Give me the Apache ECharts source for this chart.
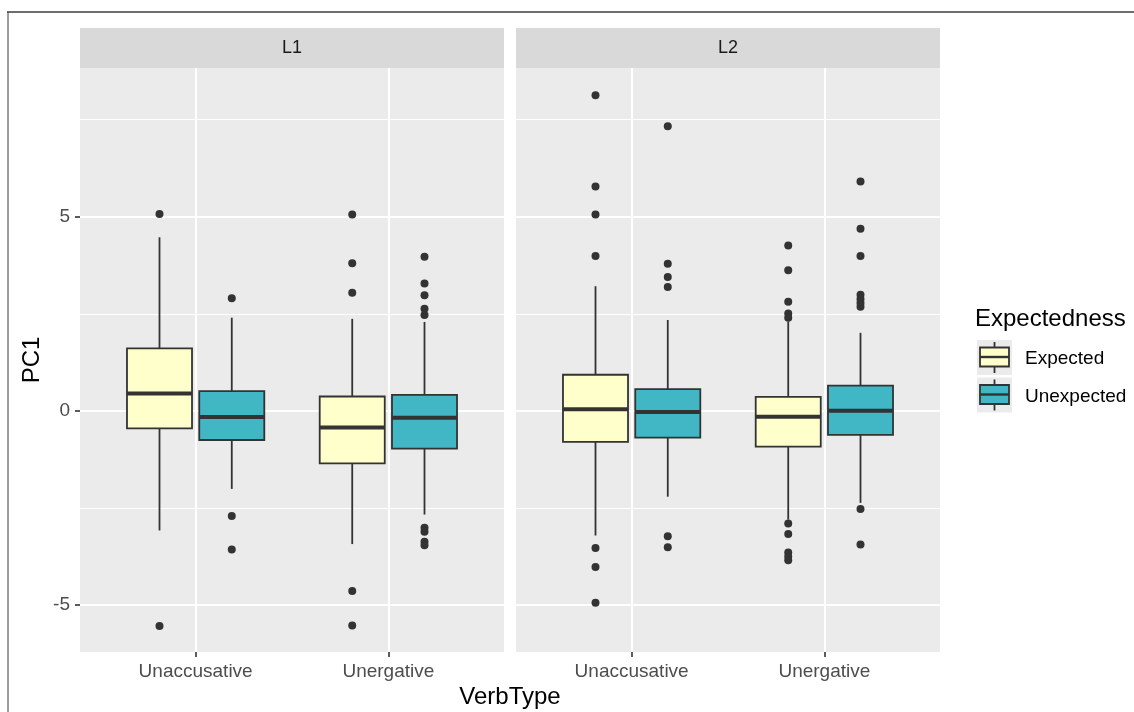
<!DOCTYPE html>
<html>
<head>
<meta charset="utf-8">
<script src="https://cdn.jsdelivr.net/npm/echarts@6/dist/echarts.min.js"></script>
<style>
  html, body { margin: 0; padding: 0; background: #ffffff; }
  #chart { width: 1134px; height: 712px; }
</style>
</head>
<body>
<div id="chart"></div>
<script>
// Facets, categories and groups
const panels = ['L1', 'L2'];
const verbTypes = ['Unaccusative', 'Unergative'];
const groups = ['Expected', 'Unexpected'];
const yTicks = [-5, 0, 5];
const yMinorTicks = [-2.5, 2.5, 7.5];

// Box statistics per verb type: [lower whisker, Q1, median, Q3, upper whisker]
const l1Expected   = [[-3.08, -0.45,  0.45, 1.61, 4.47], [-3.43, -1.35, -0.43, 0.37, 2.37]];
const l1Unexpected = [[-2.01, -0.75, -0.16, 0.51, 2.40], [-2.67, -0.97, -0.18, 0.41, 2.29]];
const l2Expected   = [[-3.21, -0.80,  0.04, 0.93, 3.21], [-2.80, -0.92, -0.15, 0.36, 2.30]];
const l2Unexpected = [[-2.21, -0.69, -0.03, 0.56, 2.34], [-2.37, -0.62,  0.00, 0.65, 2.01]];

// Outlying points per verb type
const l1ExpectedOut   = [[5.07, -5.54], [5.06, 3.80, 3.04, -4.64, -5.53]];
const l1UnexpectedOut = [[2.90, -2.71, -3.57], [3.97, 3.28, 2.98, 2.63, 2.47, -3.01, -3.11, -3.37, -3.46]];
const l2ExpectedOut   = [[8.13, 5.78, 5.06, 3.99, -3.53, -4.02, -4.94], [4.26, 3.62, 2.81, 2.51, 2.40, -2.90, -3.17, -3.65, -3.75, -3.85]];
const l2UnexpectedOut = [[7.33, 3.79, 3.45, 3.19, -3.23, -3.51], [5.91, 4.69, 3.99, 2.99, 2.88, 2.78, 2.68, -2.53, -3.44]];

const fills = { Expected: '#FFFFCC', Unexpected: '#41B6C4' };
const boxStats = { L1: { Expected: l1Expected, Unexpected: l1Unexpected }, L2: { Expected: l2Expected, Unexpected: l2Unexpected } };
const outliers = { L1: { Expected: l1ExpectedOut, Unexpected: l1UnexpectedOut }, L2: { Expected: l2ExpectedOut, Unexpected: l2UnexpectedOut } };

// Layout of the two facet panels (pixels)
const panelLeft = [80, 516];
const panelWidth = 424;
const panelTop = 68;
const panelHeight = 584;
const stripTop = 28;
const dodge = { Expected: -0.1875, Unexpected: 0.1875 };
const halfBox = 0.16875;
const yMin = -6.21, yMax = 8.83;
const ink = '#333333';
const labelFont = 'Liberation Sans, Arial, sans-serif';

const chart = echarts.init(document.getElementById('chart'), null, { renderer: 'canvas' });

const grids = panels.map((p, i) => ({
  left: panelLeft[i], top: panelTop, width: panelWidth, height: panelHeight,
  show: true, backgroundColor: '#EBEBEB', borderWidth: 0, containLabel: false
}));

const xAxes = panels.map((p, i) => ({
  type: 'value', gridIndex: i, min: 0.4, max: 2.6, position: 'bottom',
  axisLine: { show: false, onZero: false },
  axisTick: { show: true, customValues: [1, 2], length: 5, lineStyle: { color: ink, width: 1.6 } },
  axisLabel: {
    customValues: [1, 2], margin: 10, color: '#4D4D4D', fontSize: 19, fontFamily: labelFont,
    formatter: v => verbTypes[Math.round(v) - 1] || ''
  },
  splitLine: { show: true, lineStyle: { color: '#FFFFFF', width: 2 } }
}));

const yAxes = [];
panels.forEach((p, i) => {
  // major lines and labels
  yAxes.push({
    type: 'value', gridIndex: i, min: yMin, max: yMax, position: 'left',
    axisLine: { show: false, onZero: false },
    axisTick: { show: i === 0, customValues: yTicks, length: 5, lineStyle: { color: ink, width: 1.6 } },
    axisLabel: { show: i === 0, customValues: yTicks, margin: 10, color: '#4D4D4D', fontSize: 19, fontFamily: labelFont },
    splitLine: { show: true, lineStyle: { color: '#FFFFFF', width: 2 } },
    name: i === 0 ? 'PC1' : '', nameLocation: 'middle', nameRotate: 90, nameGap: 36,
    nameTextStyle: { color: '#000000', fontSize: 24, fontFamily: labelFont }
  });
  // minor lines
  yAxes.push({
    type: 'value', gridIndex: i, min: yMin, max: yMax, position: 'left',
    axisLine: { show: false, onZero: false },
    axisTick: { show: false, customValues: yMinorTicks },
    axisLabel: { show: false, customValues: yMinorTicks },
    splitLine: { show: true, lineStyle: { color: '#FFFFFF', width: 1 } }
  });
});

function renderBox(params, api) {
  const x = api.value(0);
  const lo = api.coord([x, api.value(1)]);
  const q1 = api.coord([x, api.value(2)]);
  const med = api.coord([x, api.value(3)]);
  const q3 = api.coord([x, api.value(4)]);
  const hi = api.coord([x, api.value(5)]);
  const left = api.coord([x - halfBox, 0])[0];
  const right = api.coord([x + halfBox, 0])[0];
  const fill = api.visual('color');
  const lineStyle = { stroke: ink, lineWidth: 1.8 };
  return {
    type: 'group',
    children: [
      { type: 'line', shape: { x1: q3[0], y1: q3[1], x2: hi[0], y2: hi[1] }, style: lineStyle },
      { type: 'line', shape: { x1: q1[0], y1: q1[1], x2: lo[0], y2: lo[1] }, style: lineStyle },
      { type: 'rect', shape: { x: left, y: q3[1], width: right - left, height: q1[1] - q3[1] },
        style: { fill: fill, stroke: ink, lineWidth: 1.8 } },
      { type: 'line', shape: { x1: left, y1: med[1], x2: right, y2: med[1] }, style: { stroke: ink, lineWidth: 4 } }
    ]
  };
}

const series = [];
panels.forEach((p, i) => {
  groups.forEach(g => {
    const boxData = boxStats[p][g].map((s, k) => [k + 1 + dodge[g]].concat(s));
    series.push({
      type: 'custom', name: g, xAxisIndex: i, yAxisIndex: i * 2,
      renderItem: renderBox, itemStyle: { color: fills[g] },
      encode: { x: 0, y: [1, 2, 3, 4, 5] },
      data: boxData, z: 3, silent: true
    });
    const pts = [];
    outliers[p][g].forEach((list, k) => list.forEach(v => pts.push([k + 1 + dodge[g], v])));
    series.push({
      type: 'scatter', name: g + ' outliers', xAxisIndex: i, yAxisIndex: i * 2,
      symbol: 'circle', symbolSize: 8, itemStyle: { color: ink, opacity: 1 },
      data: pts, z: 4, silent: true
    });
  });
});

// Facet strips, axis title, legend and frame
const graphic = [];
panels.forEach((p, i) => {
  graphic.push({ type: 'rect', left: panelLeft[i], top: stripTop,
    shape: { width: panelWidth, height: panelTop - stripTop }, style: { fill: '#D9D9D9' } });
  graphic.push({ type: 'text', x: panelLeft[i] + panelWidth / 2, y: (stripTop + panelTop) / 2,
    style: { text: p, fill: '#1A1A1A', font: '18px ' + labelFont, textAlign: 'center', textVerticalAlign: 'middle' } });
});
graphic.push({ type: 'text', x: (panelLeft[0] + panelLeft[1] + panelWidth) / 2, y: 697,
  style: { text: 'VerbType', fill: '#000000', font: '24px ' + labelFont, textAlign: 'center', textVerticalAlign: 'middle' } });

graphic.push({ type: 'text', x: 975, y: 319,
  style: { text: 'Expectedness', fill: '#000000', font: '24px ' + labelFont, textAlign: 'left', textVerticalAlign: 'middle' } });
groups.forEach((g, k) => {
  const top = 340 + k * 37.5;
  graphic.push({ type: 'rect', shape: { x: 977, y: top, width: 35, height: 35 }, style: { fill: '#EBEBEB' } });
  graphic.push({ type: 'line', shape: { x1: 994.5, y1: top + 2, x2: 994.5, y2: top + 33 }, style: { stroke: ink, lineWidth: 1.8 } });
  graphic.push({ type: 'rect', shape: { x: 980, y: top + 7.5, width: 29, height: 19 }, style: { fill: fills[g], stroke: ink, lineWidth: 1.8 } });
  graphic.push({ type: 'line', shape: { x1: 980, y1: top + 17, x2: 1009, y2: top + 17 }, style: { stroke: ink, lineWidth: 2.4 } });
  graphic.push({ type: 'text', x: 1025, y: top + 19,
    style: { text: g, fill: '#000000', font: '19px ' + labelFont, textAlign: 'left', textVerticalAlign: 'middle' } });
});

graphic.push({ type: 'line', shape: { x1: 7, y1: 12, x2: 1134, y2: 12 }, style: { stroke: '#6E6E6E', lineWidth: 2 } });
graphic.push({ type: 'line', shape: { x1: 8, y1: 12, x2: 8, y2: 712 }, style: { stroke: '#3A3A3A', lineWidth: 1 } });

chart.setOption({
  animation: false,
  backgroundColor: '#FFFFFF',
  grid: grids,
  xAxis: xAxes,
  yAxis: yAxes,
  series: series,
  graphic: graphic
});
</script>
</body>
</html>
